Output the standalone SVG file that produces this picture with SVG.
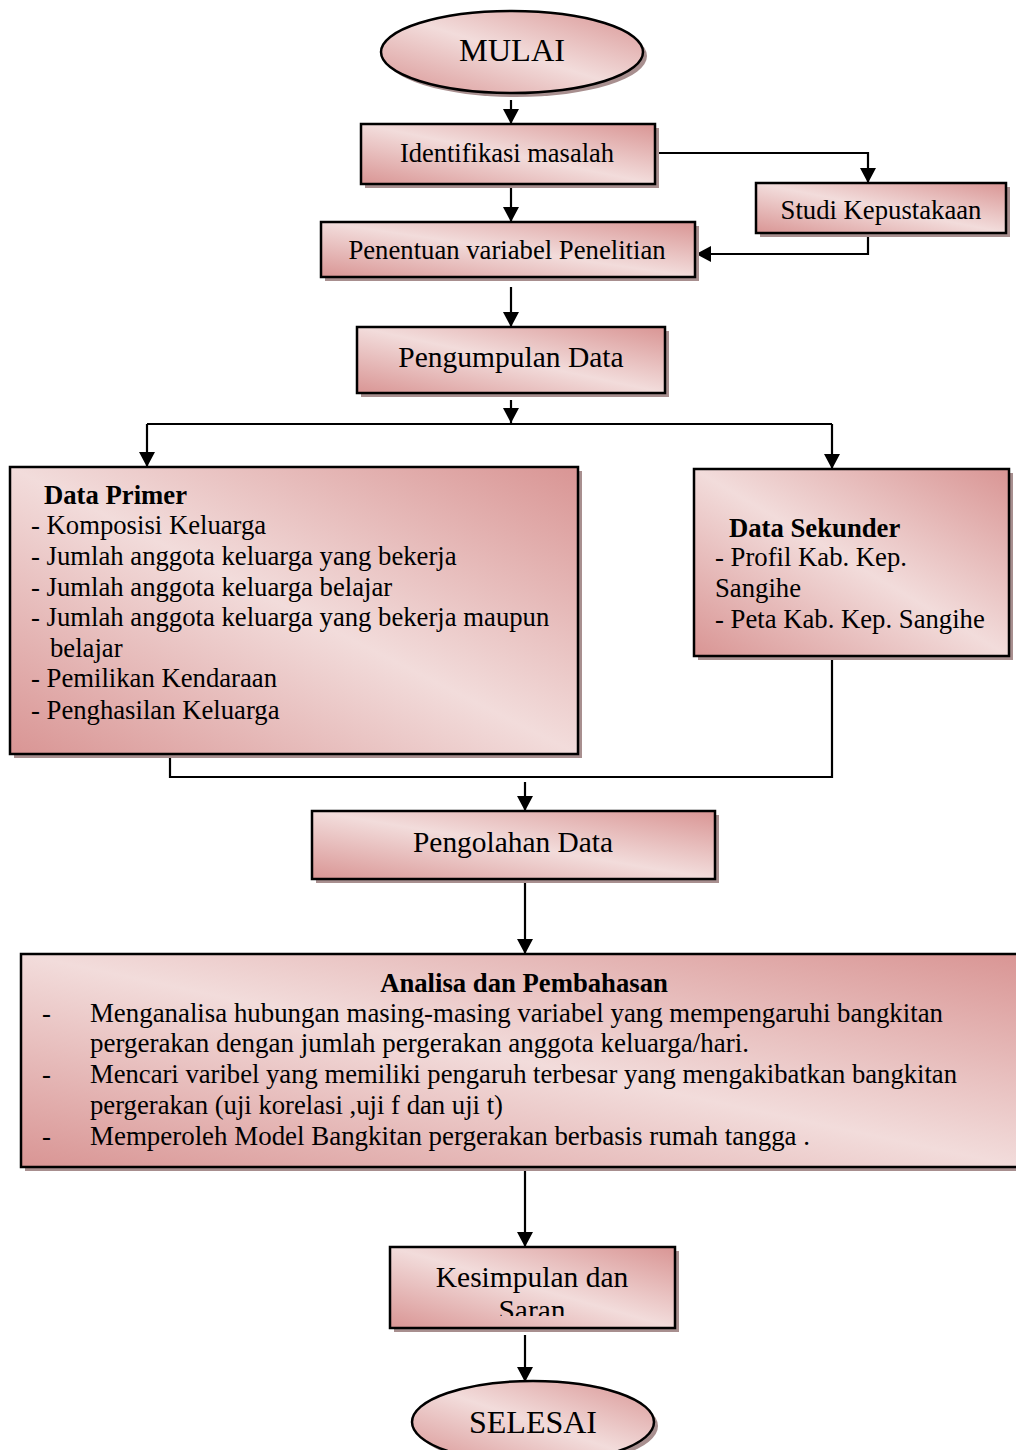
<svg xmlns="http://www.w3.org/2000/svg" width="1016" height="1450" viewBox="0 0 1016 1450">
<defs>
<linearGradient id="g" x1="1" y1="0" x2="0" y2="1">
<stop offset="0" stop-color="#d99594"/>
<stop offset="0.5" stop-color="#f2dcdb"/>
<stop offset="1" stop-color="#d99594"/>
</linearGradient>
<marker id="ah" markerUnits="userSpaceOnUse" markerWidth="15" markerHeight="16" viewBox="0 0 15 16" refX="15" refY="8" orient="auto">
<path d="M0,0 L15,8 L0,16 z" fill="#000"/>
</marker>
<clipPath id="kc"><rect x="390" y="1247" width="285" height="69"/></clipPath>
</defs>
<style>
.sh{fill:#a88f8f}
.bx{fill:url(#g);stroke:#000;stroke-width:2.5}
.t{font-family:"Liberation Serif","Times New Roman",serif;fill:#000}
.f{font-size:26.7px}
.c{stroke:#000;stroke-width:2.2;fill:none}
.a{marker-end:url(#ah)}
</style>
<g id="connectors">
<line class="c a" x1="511" y1="100" x2="511" y2="124"/>
<polyline class="c a" points="655,153 868,153 868,183"/>
<line class="c a" x1="511" y1="188" x2="511" y2="222"/>
<polyline class="c a" points="868,233 868,254 696,254"/>
<line class="c a" x1="511" y1="287" x2="511" y2="327"/>
<line class="c a" x1="511" y1="400" x2="511" y2="423"/>
<polyline class="c" points="147,424 832,424"/>
<line class="c a" x1="147" y1="424" x2="147" y2="467"/>
<line class="c a" x1="832" y1="424" x2="832" y2="469"/>
<polyline class="c" points="170,754 170,777 832,777 832,656"/>
<line class="c a" x1="525" y1="782" x2="525" y2="811"/>
<line class="c a" x1="525" y1="879" x2="525" y2="954"/>
<line class="c a" x1="525" y1="1167" x2="525" y2="1247"/>
<line class="c a" x1="525" y1="1335" x2="525" y2="1382"/>
</g>
<g id="mulai">
<ellipse class="sh" cx="516" cy="56" rx="131" ry="41"/>
<ellipse class="bx" cx="512" cy="52" rx="131" ry="41"/>
<text class="t" x="512" y="61" font-size="32.4" text-anchor="middle">MULAI</text>
</g>
<g id="identifikasi">
<rect class="sh" x="365" y="128" width="294" height="60"/>
<rect class="bx" x="361" y="124" width="294" height="60"/>
<text class="t" x="507" y="162" font-size="26.5" text-anchor="middle">Identifikasi masalah</text>
</g>
<g id="studi">
<rect class="sh" x="760" y="187" width="250" height="50"/>
<rect class="bx" x="756" y="183" width="250" height="50"/>
<text class="t" x="881" y="219" font-size="26.7" text-anchor="middle">Studi Kepustakaan</text>
</g>
<g id="penentuan">
<rect class="sh" x="325" y="226" width="374" height="55"/>
<rect class="bx" x="321" y="222" width="374" height="55"/>
<text class="t" x="507" y="259" font-size="26.7" text-anchor="middle">Penentuan variabel Penelitian</text>
</g>
<g id="pengumpulan">
<rect class="sh" x="361" y="331" width="308" height="66"/>
<rect class="bx" x="357" y="327" width="308" height="66"/>
<text class="t" x="511" y="367" font-size="29.5" text-anchor="middle">Pengumpulan Data</text>
</g>
<g id="primer">
<rect class="sh" x="14" y="471" width="568" height="287"/>
<rect class="bx" x="10" y="467" width="568" height="287"/>
<text class="t f" x="44" y="504" font-weight="bold">Data Primer</text>
<text class="t f" x="31" y="534">- Komposisi Keluarga</text>
<text class="t f" x="31" y="565">- Jumlah anggota keluarga yang bekerja</text>
<text class="t f" x="31" y="596">- Jumlah anggota keluarga belajar</text>
<text class="t f" x="31" y="626">- Jumlah anggota keluarga yang bekerja maupun</text>
<text class="t f" x="50" y="657">belajar</text>
<text class="t f" x="31" y="687">- Pemilikan Kendaraan</text>
<text class="t f" x="31" y="719">- Penghasilan Keluarga</text>
</g>
<g id="sekunder">
<rect class="sh" x="698" y="473" width="315" height="187"/>
<rect class="bx" x="694" y="469" width="315" height="187"/>
<text class="t f" x="729" y="537" font-weight="bold">Data Sekunder</text>
<text class="t f" x="715" y="566">- Profil Kab. Kep.</text>
<text class="t f" x="715" y="597">Sangihe</text>
<text class="t f" x="715" y="628">- Peta Kab. Kep. Sangihe</text>
</g>
<g id="pengolahan">
<rect class="sh" x="316" y="815" width="403" height="68"/>
<rect class="bx" x="312" y="811" width="403" height="68"/>
<text class="t" x="513" y="852" font-size="29.4" text-anchor="middle">Pengolahan Data</text>
</g>
<g id="analisa">
<rect class="sh" x="25" y="958" width="1000" height="213"/>
<rect class="bx" x="21" y="954" width="1000" height="213"/>
<text class="t f" x="524" y="992" font-weight="bold" text-anchor="middle">Analisa dan Pembahasan</text>
<text class="t f" x="42" y="1022">-</text>
<text class="t f" x="90" y="1022" textLength="853" lengthAdjust="spacingAndGlyphs">Menganalisa hubungan masing-masing variabel  yang mempengaruhi bangkitan</text>
<text class="t f" x="90" y="1052" textLength="659" lengthAdjust="spacingAndGlyphs">pergerakan dengan jumlah pergerakan  anggota keluarga/hari.</text>
<text class="t f" x="42" y="1083">-</text>
<text class="t f" x="90" y="1083" textLength="867" lengthAdjust="spacingAndGlyphs">Mencari varibel yang memiliki pengaruh terbesar yang mengakibatkan bangkitan</text>
<text class="t f" x="90" y="1114" textLength="413" lengthAdjust="spacingAndGlyphs">pergerakan (uji korelasi ,uji f dan uji t)</text>
<text class="t f" x="42" y="1145">-</text>
<text class="t f" x="90" y="1145" textLength="720" lengthAdjust="spacingAndGlyphs">Memperoleh  Model Bangkitan pergerakan berbasis rumah tangga .</text>
</g>
<g id="kesimpulan">
<rect class="sh" x="394" y="1251" width="285" height="81"/>
<rect class="bx" x="390" y="1247" width="285" height="81"/>
<text class="t" x="532" y="1287" font-size="29.5" text-anchor="middle">Kesimpulan dan</text>
<text class="t" x="532" y="1320" font-size="29.5" text-anchor="middle" clip-path="url(#kc)">Saran</text>
</g>
<g id="selesai">
<ellipse class="sh" cx="537" cy="1426" rx="121" ry="41"/>
<ellipse class="bx" cx="533" cy="1422" rx="121" ry="41"/>
<text class="t" x="533" y="1433" font-size="32" text-anchor="middle">SELESAI</text>
</g>
</svg>
